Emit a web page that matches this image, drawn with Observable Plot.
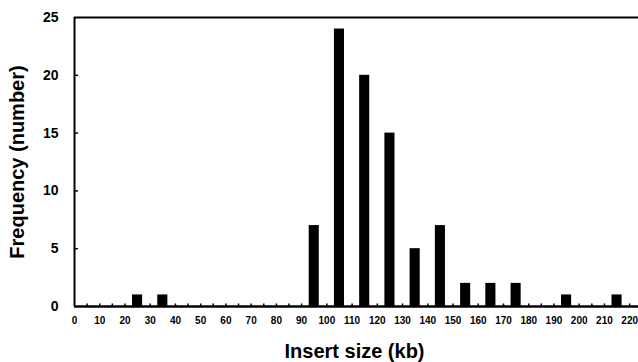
<!DOCTYPE html>
<html>
<head>
<meta charset="utf-8">
<script src="https://cdn.jsdelivr.net/npm/d3@7"></script>
<script src="https://cdn.jsdelivr.net/npm/@observablehq/plot@0.6"></script>
<style>
  html, body { margin: 0; padding: 0; background: #fff; }
  svg { display: block; }
</style>
</head>
<body>
<div id="chart"></div>
<script>
// Bin centers (kb) and frequencies
const binCenters = [25, 35, 95, 105, 115, 125, 135, 145, 155, 165, 175, 195, 215];
const frequencies = [1, 1, 7, 24, 20, 15, 5, 7, 2, 2, 2, 1, 1];
const xTickLabels = d3.range(0, 230, 10);
const xMinorTicks = d3.range(5, 225, 5);
const yTickLabels = [0, 5, 10, 15, 20, 25];
const xTitle = "Insert size (kb)";
const yTitle = "Frequency (number)";

const barHalfWidth = 2; // kb
const data = binCenters.map((c, i) => ({center: c, count: frequencies[i]}));

const font = "'Liberation Sans', Arial, sans-serif";

const chart = Plot.plot({
  width: 638,
  height: 362,
  marginLeft: 74,
  marginRight: 0,
  marginTop: 17,
  marginBottom: 56,
  style: {fontFamily: font, background: "#fff", color: "#000"},
  x: {domain: [0, 223.5]},
  y: {domain: [0, 25]},
  marks: [
    Plot.rectY(data, {
      x1: d => d.center - barHalfWidth,
      x2: d => d.center + barHalfWidth,
      y: "count",
      fill: "#000"
    }),
    // inward minor ticks on x axis
    Plot.ruleX(xMinorTicks, {x: d => d, y1: 0, y2: 0.22, stroke: "#000", strokeWidth: 1.5}),
    // inward ticks on y axis
    Plot.ruleY(yTickLabels.slice(1, -1), {y: d => d, x1: 0, x2: 1.6, stroke: "#000", strokeWidth: 1.5}),
    Plot.ruleY([0], {stroke: "#000", strokeWidth: 2.5}),
    Plot.ruleY([25], {stroke: "#000", strokeWidth: 2}),
    Plot.ruleX([0], {stroke: "#000", strokeWidth: 2}),
    Plot.axisX({
      ticks: xTickLabels, tickSize: 0, tickPadding: 10,
      fontSize: 10, fontWeight: "bold", label: null
    }),
    Plot.axisY({
      ticks: yTickLabels, tickSize: 0, tickPadding: 16,
      fontSize: 14, fontWeight: "bold", label: null
    }),
    Plot.text([xTitle], {
      text: d => d, frameAnchor: "bottom", dy: 45, dx: -2,
      fontSize: 20, fontWeight: "bold", lineAnchor: "middle", fill: "#000"
    }),
    Plot.text([yTitle], {
      text: d => d, frameAnchor: "left", dx: -57, rotate: -90,
      textAnchor: "middle",
      fontSize: 20, fontWeight: "bold", lineAnchor: "middle", fill: "#000"
    })
  ]
});
document.getElementById("chart").appendChild(chart);
</script>
</body>
</html>
